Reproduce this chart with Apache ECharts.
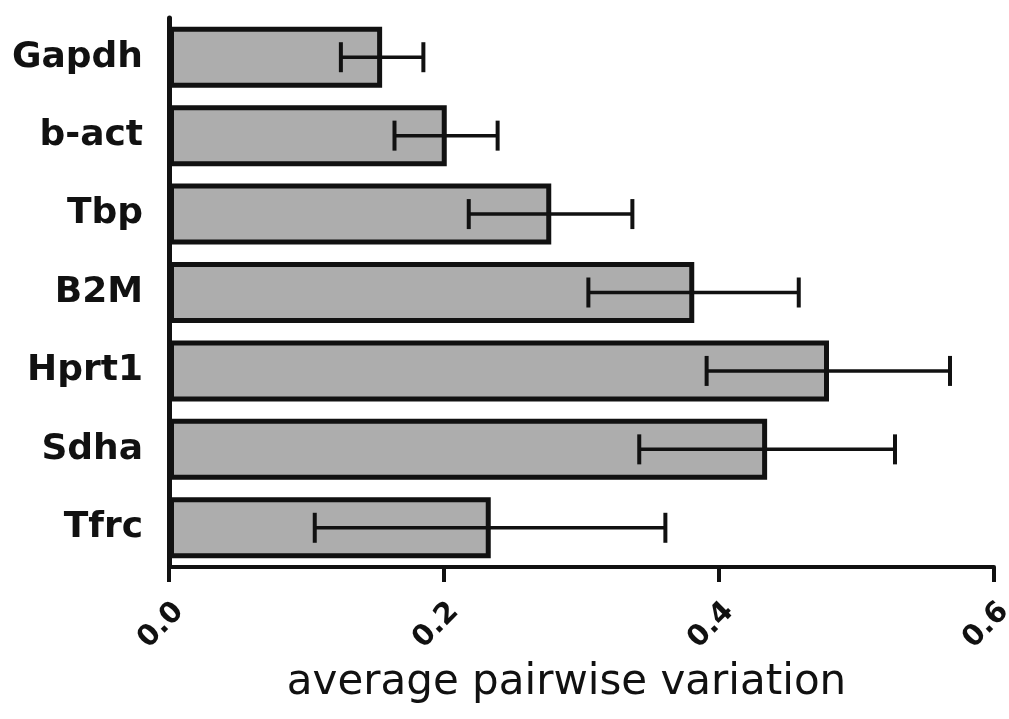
<!DOCTYPE html>
<html>
<head>
<meta charset="utf-8">
<script src="https://cdn.jsdelivr.net/npm/echarts@6/dist/echarts.min.js"></script>
<style>html,body{margin:0;padding:0;background:#fff;}#chart{width:1009px;height:719px;}</style>
</head>
<body>
<div id="chart"></div>
<script>
const categories = ['Gapdh', 'b-act', 'Tbp', 'B2M', 'Hprt1', 'Sdha', 'Tfrc'];
const means = [0.155, 0.202, 0.278, 0.382, 0.480, 0.435, 0.234];
const errLow = [0.125, 0.164, 0.218, 0.305, 0.391, 0.342, 0.106];
const errHigh = [0.185, 0.239, 0.337, 0.458, 0.568, 0.528, 0.361];
const xTicks = [0.0, 0.2, 0.4, 0.6];
const xTitle = 'average pairwise variation';

const errData = categories.map((c, i) => [errLow[i], errHigh[i], i]);

const chart = echarts.init(document.getElementById('chart'), null, {renderer: 'canvas'});
chart.setOption({
  backgroundColor: '#ffffff',
  animation: false,
  grid: {left: 169, right: 15, top: 18, bottom: 152, containLabel: false, outerBoundsMode: 'none'},
  xAxis: {
    type: 'value',
    min: xTicks[0], max: xTicks[xTicks.length - 1], interval: 0.2,
    splitLine: {show: false},
    axisLine: {show: true, lineStyle: {color: '#111', width: 4}},
    axisTick: {show: true, inside: false, length: 15, lineStyle: {color: '#111', width: 4}},
    axisLabel: {
      rotate: 45, margin: 30, verticalAlign: 'top', hideOverlap: false, fontFamily: 'DejaVu Sans', fontWeight: 'bold', fontSize: 29, color: '#111',
      formatter: v => Number(v).toFixed(1)
    },
    name: xTitle, nameLocation: 'middle', nameGap: 95,
    nameTextStyle: {fontFamily: 'DejaVu Sans', fontSize: 42, color: '#111', padding: [0, 30, 0, 0]}
  },
  yAxis: {
    type: 'category', data: categories, inverse: true,
    axisLine: {show: true, lineStyle: {color: '#111', width: 5}},
    axisTick: {show: false},
    axisLabel: {margin: 26, fontFamily: 'DejaVu Sans', fontWeight: 'bold', fontSize: 36, color: '#111'}
  },
  series: [
    {
      type: 'bar', data: means, barWidth: 61,
      itemStyle: {color: '#adadad', borderColor: '#111', borderWidth: 5},
      z: 2
    },
    {
      type: 'custom', data: errData, z: 5,
      encode: {x: [0, 1], y: 2},
      renderItem: function (params, api) {
        const lo = api.value(0), hi = api.value(1), cat = api.value(2);
        const p1 = api.coord([lo, cat]);
        const p2 = api.coord([hi, cat]);
        const h = 15;
        const st = {stroke: '#111', lineWidth: 4};
        return {type: 'group', children: [
          {type: 'line', shape: {x1: p1[0], y1: p1[1], x2: p2[0], y2: p2[1]}, style: {stroke: '#111', lineWidth: 3.5}},
          {type: 'line', shape: {x1: p1[0], y1: p1[1] - h, x2: p1[0], y2: p1[1] + h}, style: st},
          {type: 'line', shape: {x1: p2[0], y1: p2[1] - h, x2: p2[0], y2: p2[1] + h}, style: st}
        ]};
      }
    }
  ]
});
</script>
</body>
</html>
